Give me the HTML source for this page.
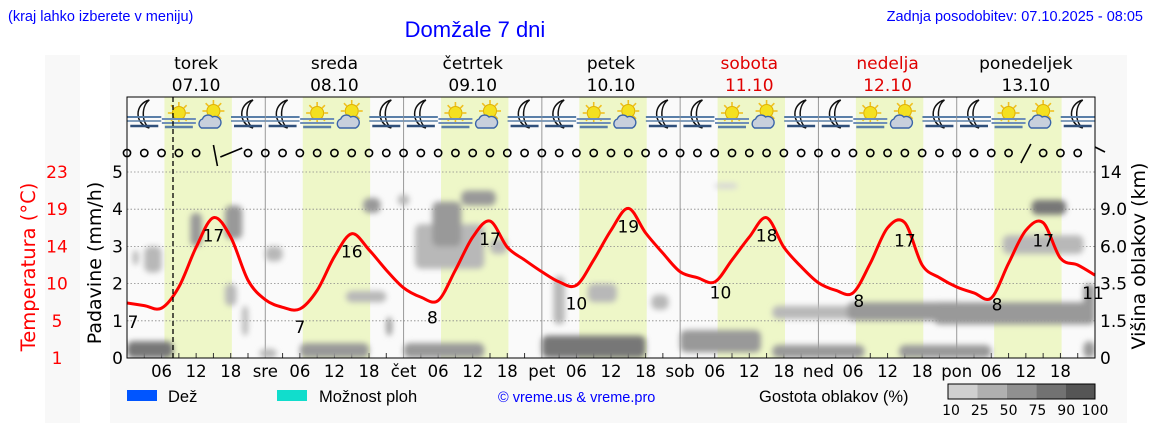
<!DOCTYPE html>
<html><head><meta charset="utf-8"><style>
html,body{margin:0;padding:0;background:#fff;}
svg{display:block;font-family:"DejaVu Sans","Liberation Sans",sans-serif;}
</style></head><body>
<svg id="chart" width="1152" height="443" viewBox="0 0 1152 443" xmlns="http://www.w3.org/2000/svg">
<defs>
<filter id="blur" x="-50%" y="-50%" width="200%" height="200%"><feGaussianBlur stdDeviation="3"/></filter>
<clipPath id="plotclip"><rect x="127" y="97" width="968" height="261"/></clipPath>
</defs>
<rect x="45" y="55" width="35" height="368" fill="#f8f8f8"/>
<rect x="110" y="55" width="1017" height="368" fill="#f8f8f8"/>
<text x="8" y="21" font-family="Liberation Sans, sans-serif" font-size="14.5" fill="#0000ff">(kraj lahko izberete v meniju)</text>
<text x="475" y="37" text-anchor="middle" font-family="Liberation Sans, sans-serif" font-size="22" fill="#0000ff">Domžale 7 dni</text>
<text x="1143" y="21" text-anchor="end" font-family="Liberation Sans, sans-serif" font-size="14.5" fill="#0000ff">Zadnja posodobitev: 07.10.2025 - 08:05</text>
<rect x="127" y="97" width="968" height="261" fill="#fafafa"/>
<g id="bands"></g>
<g id="grid"></g>
<g id="clouds" clip-path="url(#plotclip)"><g id="cloudsInner" filter="url(#blur)"></g></g>
<g id="icons"></g>
<g id="wind"></g>
<g id="temp"></g>
<rect x="127" y="97" width="968" height="261" fill="none" stroke="#000" stroke-width="1"/>
<line x1="173" y1="97" x2="173" y2="358" stroke="#000" stroke-width="1.3" stroke-dasharray="5,3"/>
<g id="axes"></g>
<text transform="translate(101,263) rotate(-90)" text-anchor="middle" font-size="19" fill="#000">Padavine (mm/h)</text>
<text transform="translate(35,267) rotate(-90)" text-anchor="middle" font-size="19.5" fill="#ff0000">Temperatura (°C)</text>
<text transform="translate(1145,256) rotate(-90)" text-anchor="middle" font-size="19" fill="#000">Višina oblakov (km)</text>
<g>
<rect x="127" y="390" width="30" height="11" fill="#0055ff"/>
<text x="168" y="402" font-family="Liberation Sans, sans-serif" font-size="16.5">Dež</text>
<rect x="277" y="390" width="30" height="11" fill="#11ddcc"/>
<text x="319" y="402" font-family="Liberation Sans, sans-serif" font-size="16.5">Možnost ploh</text>
<text x="498" y="402" font-family="Liberation Sans, sans-serif" font-size="14.5" fill="#0000ff">© vreme.us &amp; vreme.pro</text>
<text x="759" y="402" font-family="Liberation Sans, sans-serif" font-size="16.5">Gostota oblakov (%)</text>
<g id="scale"></g>
</g>
</svg>
<script>
const NS="http://www.w3.org/2000/svg";
const dayNames=["torek","sreda","četrtek","petek","sobota","nedelja","ponedeljek"];
const dayDates=["07.10","08.10","09.10","10.10","11.10","12.10","13.10"];
const dayAbbr=["","sre","čet","pet","sob","ned","pon"];
const weekend=[false,false,false,false,true,true,false];
const tempHours=[0,3,6,9,12,15,18,21,24,27,30,33,36,39,42,45,48,51,54,57,60,63,66,69,72,75,78,81,84,87,90,93,96,99,102,105,108,111,114,117,120,123,126,129,132,135,138,141,144,147,150,153,156,159,162,165,168];
const tempValues=[7.5,7.2,6.9,9.4,14.1,17.6,15.3,10.2,7.9,7.0,6.8,9.0,13.0,15.7,13.8,11.4,9.3,8.2,7.8,11.4,15.3,17.2,14.1,12.6,11.2,10.0,9.6,12.6,16.1,18.7,15.8,13.4,11.2,10.5,10.0,12.6,15.3,17.6,14.1,11.8,9.9,9.0,8.7,12.2,16.4,17.0,12.0,10.5,9.4,8.7,8.1,12.2,16.1,17.0,12.8,12.0,10.8];
const extremeHours=[1,15,30,39,53,63,78,87,103,111,127,135,151,159,168];
const extremeLabels=["7","17","7","16","8","17","10","19","10","18","8","17","8","17","11"];
const precipTicks=[0,1,2,3,4,5];
const tempTicks=["1","5","10","14","19","23"];
const cloudTicks=["0","1.5","3.5","6.0","9.0","14"];
// cloud blobs: hour start, hour end, level bottom, level top (precip-axis units), density %
const cloudStart=[0,23,30,48,72,96,112,134,166,112,125,140,1,3,11,17,17,20,24,38,41,47,45,50,53,58,63,74,80,91,102,157,152,166];
const cloudEnd=[8,26,42,62,90,110,128,150,168,130,145,168,2,6,13,20,19,21,27,45,44,49,46,62,58,64,66,76,85,94,106,163,166,168];
const cloudLow=[0,0,0,0,0,0.15,0,0,0,1.05,1.0,0.9,2.5,2.3,3.0,3.2,1.4,0.6,2.6,1.5,3.9,4.1,0.6,2.4,3.0,4.1,2.8,0.9,1.5,1.3,4.55,3.85,2.8,0.9];
const cloudHigh=[0.45,0.25,0.4,0.4,0.6,0.75,0.35,0.35,0.45,1.4,1.5,1.5,2.9,3.0,3.9,4.1,2.0,1.4,3.0,1.8,4.3,4.4,1.1,3.6,4.2,4.5,3.2,2.2,2.0,1.7,4.7,4.25,3.3,2.0];
const cloudDensity=[75,25,60,60,75,50,50,50,50,40,50,60,25,40,50,50,40,30,40,25,60,40,60,40,50,60,30,30,30,30,20,75,40,50];

const X0=127,DAYW=968/7;
const xh=h=>X0+h*DAYW/24;
const yP=p=>358-p*37.2;
const yT=t=>358-(t-1)*186/22;
function el(tag,attrs,parent,txt){const e=document.createElementNS(NS,tag);for(const k in attrs)e.setAttribute(k,attrs[k]);if(txt!==undefined)e.textContent=txt;parent.appendChild(e);return e;}
const G=id=>document.getElementById(id);
const dcol=d=>d>=90?"#5a5a5a":d>=75?"#777":d>=50?"#999":d>=25?"#b8b8b8":"#d6d6d6";

for(let d=0;d<7;d++){
  const b=el("rect",{x:xh(d*24+6.5),y:97,width:xh(18.2)-xh(6.5),height:261,fill:"#eef7c8"},G("bands"));
  
  
  const cx=xh(d*24+12);
  const n=el("text",{x:cx,y:69,"text-anchor":"middle","font-size":17,fill:weekend[d]?"#e00000":"#000"},G("axes"),dayNames[d]);
  
  
  const dt=el("text",{x:cx,y:91,"text-anchor":"middle","font-size":17,fill:weekend[d]?"#e00000":"#000"},G("axes"),dayDates[d]);
  
  
  if(d>0){
    const v=el("line",{x1:xh(d*24),y1:97,x2:xh(d*24),y2:358,stroke:"#999","stroke-width":1},G("grid"));
    
    
    const a=el("text",{x:xh(d*24),y:377,"text-anchor":"middle","font-size":16.5},G("axes"),dayAbbr[d]);
    
    
  }
  ["06","12","18"].forEach((s,i)=>{
    const t=el("text",{x:xh(d*24+6*(i+1)),y:377,"text-anchor":"middle","font-size":16.5},G("axes"),s);
    
    
  });
  for(let k=1;k<8;k++){
    const tk=el("line",{x1:xh(d*24+3*k),y1:358,x2:xh(d*24+3*k),y2:353,stroke:"#333","stroke-width":1},G("grid"));
    
    
  }
}
precipTicks.forEach((p,i)=>{
  if(p>0){const g=el("line",{x1:127,y1:yP(p),x2:1095,y2:yP(p),stroke:"#888","stroke-width":0.8,"stroke-dasharray":"1.5,2"},G("grid"));
  
  }
  const l=el("text",{x:123,y:yP(p)+6,"text-anchor":"end","font-size":17},G("axes"),String(p));
  
  
  const t=el("text",{x:57,y:yP(p)+6,"text-anchor":"middle","font-size":17,fill:"#ff0000"},G("axes"),tempTicks[i]);
  
  
  const c=el("text",{x:1100,y:yP(p)+6,"font-size":17},G("axes"),cloudTicks[i]);
  
  
});
cloudStart.forEach((s,i)=>{
  const x1=xh(s),x2=xh(cloudEnd[i]),y1=yP(cloudHigh[i]),y2=yP(cloudLow[i]);
  const r=el("rect",{x:x1,y:y1,width:x2-x1,height:y2-y1,rx:6,fill:dcol(cloudDensity[i])},G("cloudsInner"));
  
  
});
for(let d=0;d<7;d++){
  for(let q=0;q<4;q++){
    const cx=xh(d*24+q*6+3),g=el("g",{},G("icons"));
    
    
    if(q==0||q==3){
      el("path",{d:`M${cx+5},${100} C${cx-10},${104} ${cx-10},${124} ${cx+5},${128} C${cx-3},${122} ${cx-3},${106} ${cx+5},${100} Z`,fill:"#fff",stroke:"#111","stroke-width":1.5},g);
      el("line",{x1:cx-17,y1:117,x2:cx+17,y2:117,stroke:"#5a7fa8","stroke-width":2},g);
      el("line",{x1:cx-17,y1:121,x2:cx+17,y2:121,stroke:"#5a7fa8","stroke-width":1.5},g);
      el("line",{x1:cx-14,y1:126,x2:cx+14,y2:126,stroke:"#2f4f7a","stroke-width":2.5},g);
    }else{
      const sy=q==1?113:111;
      for(let a=0;a<8;a++){const ang=a*Math.PI/4;el("line",{x1:cx+Math.cos(ang)*7,y1:sy+Math.sin(ang)*7,x2:cx+Math.cos(ang)*11,y2:sy+Math.sin(ang)*11,stroke:"#f0c020","stroke-width":1.6},g);}
      el("circle",{cx:cx,cy:sy,r:6.5,fill:"#f4e020",stroke:"#e0b000","stroke-width":1},g);
      if(q==1){
        el("line",{x1:cx-17,y1:119,x2:cx+17,y2:119,stroke:"#6f8fb8","stroke-width":2},g);
        el("line",{x1:cx-17,y1:123,x2:cx+17,y2:123,stroke:"#6f8fb8","stroke-width":2},g);
        el("line",{x1:cx-14,y1:127,x2:cx+14,y2:127,stroke:"#5a7fa8","stroke-width":2.5},g);
      }else{
        el("path",{d:`M${cx-12},${128} a5,5 0 0 1 1,-9 a6,6 0 0 1 10,-2 a5,5 0 0 1 5,11 Z`,fill:"#c8d0dc",stroke:"#3a64a8","stroke-width":1.4},g);
      }
    }
  }
}
for(let h=0;h<=168;h+=3){
  if(h==15||h==18||h==156||h==168){continue;}
  const c=el("circle",{cx:xh(h),cy:153,r:3.6,fill:"none",stroke:"#000","stroke-width":1.6},G("wind"));
  
  
}
[[xh(15),145,xh(15)+4,166],[xh(16.2),157,xh(20),148],[xh(156)-5,163,xh(156)+5,144],[xh(168),147,xh(168)+10,152]].forEach(a=>{
  const w=el("line",{x1:a[0],y1:a[1],x2:a[2],y2:a[3],stroke:"#000","stroke-width":1.6},G("wind"));
  
  
});
const pts=tempHours.map((h,i)=>[xh(h),yT(tempValues[i])]);
let dstr=`M${pts[0][0]},${pts[0][1]}`;
for(let i=0;i<pts.length-1;i++){
  const p0=pts[Math.max(i-1,0)],p1=pts[i],p2=pts[i+1],p3=pts[Math.min(i+2,pts.length-1)];
  dstr+=` C${p1[0]+(p2[0]-p0[0])/6},${p1[1]+(p2[1]-p0[1])/6} ${p2[0]-(p3[0]-p1[0])/6},${p2[1]-(p3[1]-p1[1])/6} ${p2[0]},${p2[1]}`;
}
const tl=el("path",{d:dstr,fill:"none",stroke:"#ff0000","stroke-width":3,"stroke-linejoin":"round"},G("temp"));


function tempAt(h){for(let i=0;i<tempHours.length-1;i++){if(h<=tempHours[i+1]){const f=(h-tempHours[i])/(tempHours[i+1]-tempHours[i]);return tempValues[i]+f*(tempValues[i+1]-tempValues[i]);}}return tempValues[tempValues.length-1];}
extremeHours.forEach((h,i)=>{
  let x=xh(h);if(i==0)x=133;if(i==extremeHours.length-1)x=1093;
  const t=el("text",{x:x,y:yT(tempAt(h))+24,"text-anchor":"middle","font-size":17},G("temp"),extremeLabels[i]);
  
  
});
const scaleVals=[10,25,50,75,90];
const scaleLabels=["10","25","50","75","90","100"];
scaleVals.forEach((v,i)=>{
  const r=el("rect",{x:948+i*29.4,y:384,width:29.4,height:15,fill:["#d0d0d0","#b0b0b0","#909090","#727272","#555"][i]},G("scale"));
  
  
});
el("rect",{x:948,y:384,width:147,height:15,fill:"none",stroke:"#000","stroke-width":1},G("scale"));
scaleLabels.forEach((s,i)=>{
  const t=el("text",{x:951+i*28.8,y:415,"text-anchor":"middle","font-size":14},G("scale"),s);
  
  
});
</script>
</body></html>
